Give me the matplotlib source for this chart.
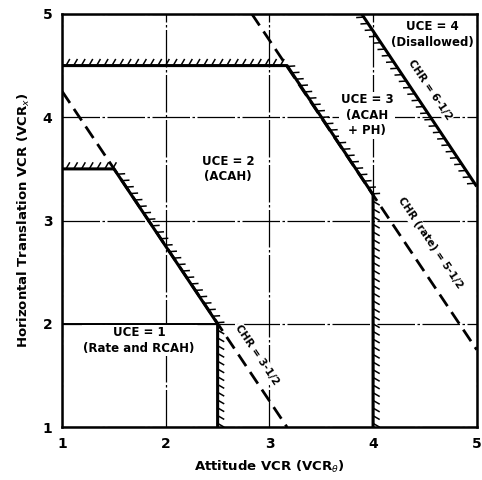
import matplotlib.pyplot as plt
from matplotlib import patheffects

# ========= DATA =========
ticks = [1, 2, 3, 4, 5]

# region boundaries (attitude VCR, translation VCR)
uce1_x = [1, 2.5]
uce1_y = [2, 2]
uce2_x = [1, 1.5, 2.5, 2.5]
uce2_y = [3.5, 3.5, 2, 1]
uce3_x = [1, 3.17, 4, 4]
uce3_y = [4.5, 4.5, 3.25, 1]
uce4_x = [5, 3.89]
uce4_y = [3.33, 5]

# constant CHR dashed lines
chr35_x = [1, 3.17]
chr35_y = [4.25, 1]
chr55_x = [2.83, 5]
chr55_y = [5, 1.75]

plt.rcParams["font.family"] = "DejaVu Sans"

fig = plt.figure(figsize=(4.82, 4.80), dpi=100)
ax = fig.add_axes([0.129, 0.110, 0.860, 0.861])
ax.set_xlim(1, 5)
ax.set_ylim(1, 5)

# grid (thin, mostly solid with small breaks)
ax.set_xticks(ticks)
ax.set_yticks(ticks)
ax.grid(True, color="black", lw=0.9, linestyle=(0, (30, 2, 2, 2)), zorder=1)
ax.tick_params(length=0, pad=7, labelsize=10)
for lab in ax.get_xticklabels() + ax.get_yticklabels():
    lab.set_fontweight("bold")
for sp in ax.spines.values():
    sp.set_linewidth(1.8)

# dashed CHR lines
dash = (0, (5, 2.6))
ax.plot(chr35_x, chr35_y, color="black", lw=2.0, linestyle=dash, zorder=2)
ax.plot(chr55_x, chr55_y, color="black", lw=2.0, linestyle=dash, zorder=2)

# hatched boundaries
tick_fx = [patheffects.TickedStroke(angle=60, spacing=5.5, length=0.9)]
for bx, by in [(uce2_x, uce2_y), (uce3_x, uce3_y), (uce4_x, uce4_y)]:
    ax.plot(bx, by, color="black", lw=1.1, path_effects=tick_fx, zorder=3)
    ax.plot(bx, by, color="black", lw=2.2, zorder=4, solid_capstyle="butt")
ax.plot(uce1_x, uce1_y, color="black", lw=1.4, zorder=3)

# labels
box = dict(facecolor="white", edgecolor="none", pad=1.0)
kw = dict(ha="center", va="center", fontsize=8.5, fontweight="bold",
          linespacing=1.25, zorder=5)
ax.text(4.57, 4.8, "UCE = 4\n(Disallowed)", bbox=box, **kw)
ax.text(3.94, 4.02, "UCE = 3\n(ACAH\n+ PH)", bbox=box, **kw)
ax.text(2.6, 3.5, "UCE = 2\n(ACAH)", bbox=box, **kw)
ax.text(1.74, 1.84, "UCE = 1\n(Rate and RCAH)", bbox=box, **kw)

rkw = dict(ha="center", va="center", fontsize=7.5, fontweight="bold",
           rotation=-56, rotation_mode="anchor", zorder=5)
ax.text(4.55, 4.27, "CHR = 6-1/2", bbox=box, **rkw)
ax.text(4.55, 2.78, "CHR (rate) = 5-1/2", bbox=box, **rkw)
ax.text(2.88, 1.7, "CHR = 3-1/2", bbox=box, **rkw)

ax.set_xlabel(r"Attitude VCR (VCR$_\theta$)", fontsize=9.5, fontweight="bold", labelpad=6)
ax.set_ylabel(r"Horizontal Translation VCR (VCR$_x$)", fontsize=9.5, fontweight="bold", labelpad=8)

fig.savefig("out.png", dpi=100, facecolor="white")
